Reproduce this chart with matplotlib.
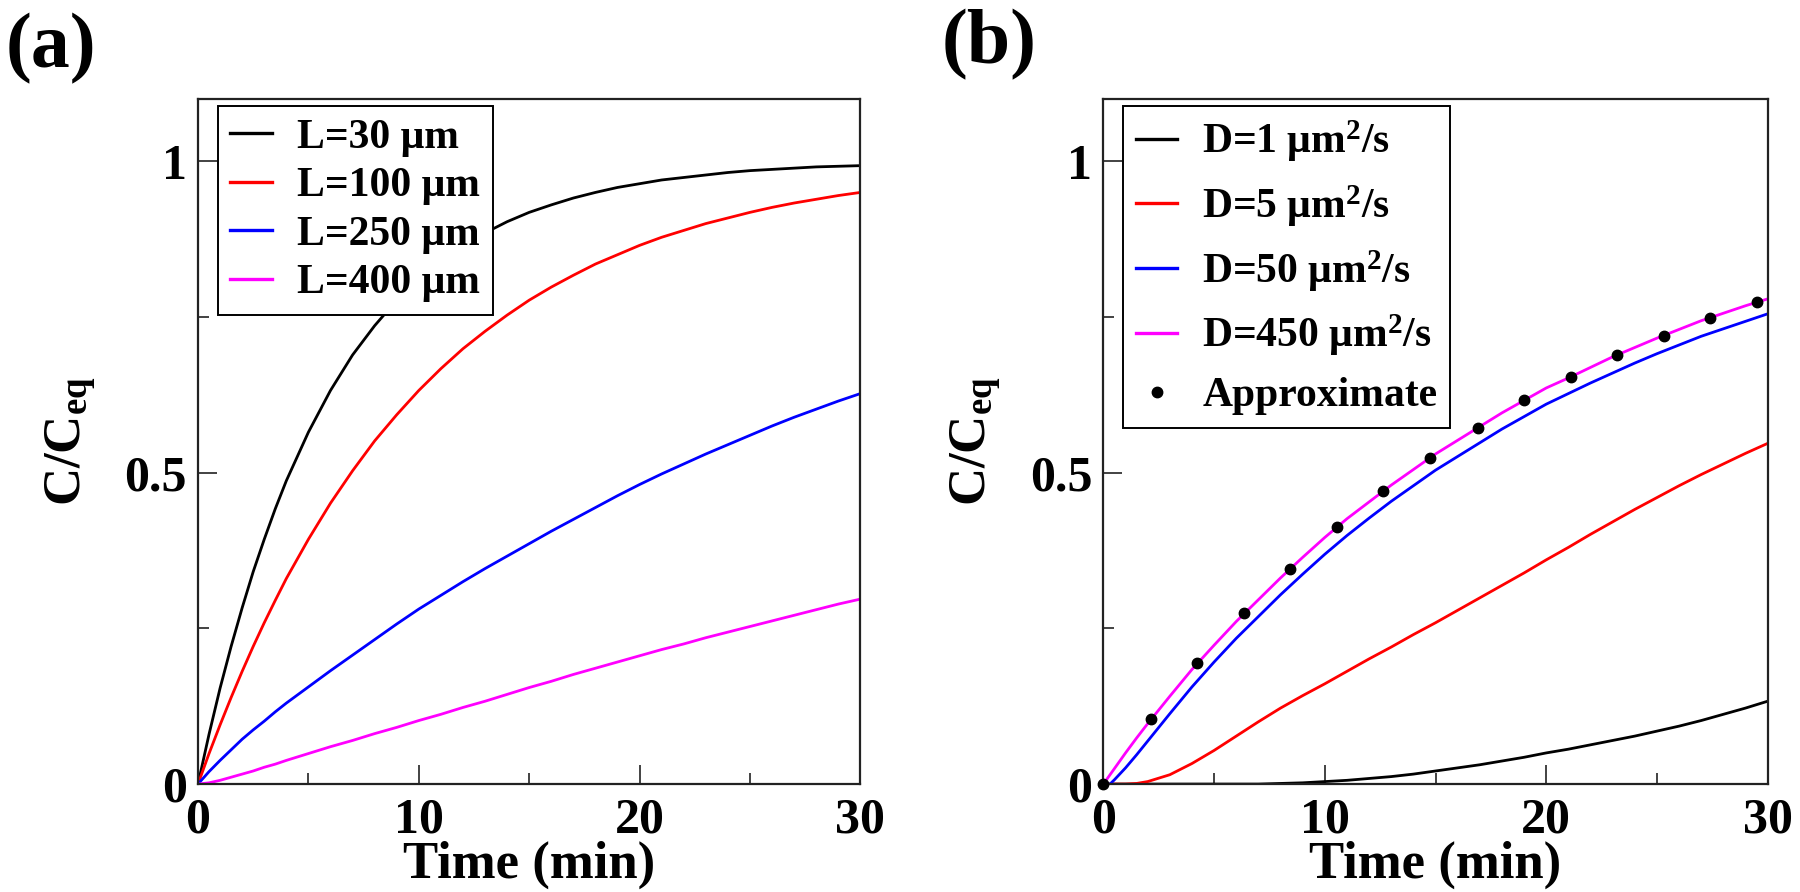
import numpy as np
import matplotlib
matplotlib.use("Agg")
import matplotlib.pyplot as plt

plt.rcParams['font.family'] = ['Liberation Serif', 'DejaVu Serif']
plt.rcParams['font.weight'] = 'bold'
plt.rcParams['mathtext.fontset'] = 'custom'
plt.rcParams['mathtext.rm'] = 'Liberation Serif:bold'
plt.rcParams['mathtext.it'] = 'Liberation Serif:bold'
plt.rcParams['mathtext.bf'] = 'Liberation Serif:bold'
plt.rcParams['mathtext.default'] = 'rm'

# ---- panel (a): varying L ----
t_a = [0, 0.5, 1, 1.5, 2, 2.5, 3, 3.5, 4, 5, 6, 7, 8, 9, 10, 11, 12, 13, 14, 15,
       16, 17, 18, 19, 20, 21, 22, 23, 24, 25, 26, 27, 28, 29, 30]
L30 = [0, 0.080, 0.154, 0.221, 0.283, 0.341, 0.393, 0.442, 0.487, 0.565, 0.632,
       0.689, 0.736, 0.777, 0.811, 0.840, 0.865, 0.885, 0.903, 0.918, 0.930,
       0.941, 0.950, 0.958, 0.964, 0.970, 0.974, 0.978, 0.982, 0.985, 0.987,
       0.989, 0.991, 0.992, 0.993]
L100 = [0, 0.049, 0.095, 0.139, 0.181, 0.221, 0.259, 0.295, 0.330, 0.393, 0.451,
        0.503, 0.551, 0.593, 0.632, 0.667, 0.699, 0.727, 0.753, 0.777, 0.798,
        0.817, 0.835, 0.850, 0.865, 0.878, 0.889, 0.900, 0.909, 0.918, 0.926,
        0.933, 0.939, 0.945, 0.950]
L250 = [0, 0.020, 0.038, 0.055, 0.072, 0.087, 0.101, 0.116, 0.130, 0.156, 0.182,
        0.207, 0.232, 0.257, 0.281, 0.303, 0.325, 0.346, 0.366, 0.386, 0.406,
        0.425, 0.444, 0.463, 0.481, 0.498, 0.514, 0.530, 0.545, 0.560, 0.575,
        0.589, 0.602, 0.615, 0.627]
L400 = [0, 0.002, 0.006, 0.011, 0.016, 0.021, 0.027, 0.032, 0.038, 0.049, 0.060,
        0.070, 0.081, 0.091, 0.102, 0.112, 0.123, 0.133, 0.144, 0.155, 0.165,
        0.176, 0.186, 0.196, 0.206, 0.216, 0.225, 0.235, 0.244, 0.253, 0.262,
        0.271, 0.280, 0.289, 0.297]
labels_a = ['L=30 μm', 'L=100 μm', 'L=250 μm', 'L=400 μm']

# ---- panel (b): varying D ----
t_b = [0, 0.3, 0.5, 1, 1.5, 2, 3, 4, 5, 6, 7, 8, 9, 10, 11, 12, 13, 14, 15, 16,
       17, 18, 19, 20, 21, 22, 23, 24, 25, 26, 27, 28, 29, 30]
D1 = [0, 0, 0, 0, 0, 0, 0, 0, 0, 0, 0, 0.001, 0.002, 0.004, 0.006, 0.009, 0.012,
      0.016, 0.021, 0.026, 0.031, 0.037, 0.043, 0.050, 0.056, 0.063, 0.070,
      0.077, 0.085, 0.093, 0.102, 0.112, 0.122, 0.133]
D5 = [0, 0, 0, 0, 0.001, 0.004, 0.015, 0.033, 0.054, 0.077, 0.100, 0.122, 0.142,
      0.161, 0.181, 0.201, 0.220, 0.240, 0.259, 0.279, 0.299, 0.319, 0.339,
      0.360, 0.380, 0.401, 0.421, 0.441, 0.460, 0.479, 0.497, 0.514, 0.531, 0.547]
D50 = [0, 0, 0.007, 0.026, 0.047, 0.069, 0.113, 0.156, 0.196, 0.234, 0.269, 0.304,
       0.337, 0.369, 0.399, 0.427, 0.454, 0.479, 0.504, 0.526, 0.548, 0.570,
       0.590, 0.610, 0.627, 0.644, 0.660, 0.676, 0.691, 0.705, 0.719, 0.731,
       0.743, 0.755]
D450 = [0, 0.015, 0.025, 0.050, 0.074, 0.097, 0.141, 0.184, 0.223, 0.261, 0.296,
        0.331, 0.364, 0.396, 0.426, 0.453, 0.480, 0.505, 0.530, 0.552, 0.574,
        0.596, 0.616, 0.636, 0.652, 0.669, 0.686, 0.701, 0.716, 0.730, 0.744,
        0.756, 0.768, 0.779]
t_approx = [0, 2.15, 4.25, 6.35, 8.45, 10.55, 12.65, 14.75, 16.9, 19.0, 21.1,
            23.2, 25.3, 27.4, 29.5]
approx = [0, 0.104, 0.194, 0.274, 0.346, 0.413, 0.471, 0.524, 0.572, 0.616,
          0.654, 0.689, 0.720, 0.749, 0.774]
labels_b = ['D=1 μm$^{2}$/s', 'D=5 μm$^{2}$/s', 'D=50 μm$^{2}$/s',
            'D=450 μm$^{2}$/s', 'Approximate']

colors = ['#000000', '#ff0000', '#0000ff', '#ff00ff']

fig = plt.figure(figsize=(18, 8.92), dpi=100)
ax1 = fig.add_axes([0.110, 0.121, 0.368, 0.768])
ax2 = fig.add_axes([0.613, 0.121, 0.369, 0.768])


def style(ax):
    ax.set_xlim(0, 30)
    ax.set_ylim(0, 1.1)
    ax.set_xticks([0, 10, 20, 30])
    ax.set_xticks([5, 15, 25], minor=True)
    ax.set_yticks([0, 0.5, 1])
    ax.set_yticklabels(['0', '0.5', '1'])
    ax.set_yticks([0.25, 0.75], minor=True)
    ax.tick_params(which='major', direction='in', length=14, width=1.2,
                   labelsize=36, color='#222222')
    ax.tick_params(which='minor', direction='in', length=8, width=1.2, color='#222222')
    ax.tick_params(axis='x', pad=10)
    ax.tick_params(axis='y', pad=8)
    for s in ax.spines.values():
        s.set_linewidth(1.6)
        s.set_color('#222222')
    ax.set_xlabel('Time (min)', fontsize=38, fontweight='bold', labelpad=-2)
    ax.set_ylabel('C/C$_{eq}$', fontsize=38, fontweight='bold', labelpad=19)


def add_legend(ax, spacing):
    leg = ax.legend(loc='upper left', bbox_to_anchor=(0.03, 0.99), fontsize=30,
                    frameon=True, fancybox=False, edgecolor='black', framealpha=1,
                    handlelength=1.0, handletextpad=0.6, labelspacing=spacing,
                    borderpad=0.3, borderaxespad=0)
    leg.get_frame().set_linewidth(1.4)
    for h in leg.get_lines():
        h.set_linewidth(2.4)


for y, c, lab in zip([L30, L100, L250, L400], colors, labels_a):
    ax1.plot(t_a, y, color=c, lw=2.0, label=lab)
style(ax1)
add_legend(ax1, 0.25)

for y, c, lab in zip([D1, D5, D50, D450], colors, labels_b[:4]):
    ax2.plot(t_b, y, color=c, lw=2.0, label=lab)
ax2.plot(t_approx, approx, 'o', color='black', ms=7.5, ls='none',
         label=labels_b[4], clip_on=False, zorder=5)
style(ax2)
add_legend(ax2, 0.45)

fig.text(0.003, 0.985, '(a)', fontsize=56, fontweight='bold', va='top', ha='left')
fig.text(0.523, 0.99, '(b)', fontsize=56, fontweight='bold', va='top', ha='left')

fig.savefig('out.png', dpi=100)
